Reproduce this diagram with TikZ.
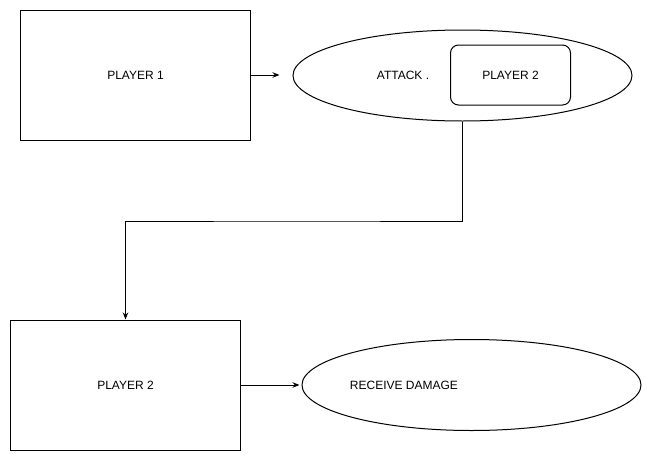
\documentclass[tikz,border=0pt]{standalone}
\usepackage{fontspec}
\setmainfont{Liberation Sans}
\usetikzlibrary{arrows.meta, positioning, shapes.geometric}

\begin{document}
\begin{tikzpicture}[
    x=1pt, y=-1pt,
    box/.style={rectangle, draw, line width=1pt, minimum width=230pt, minimum height=130pt, inner sep=0pt, font=\fontsize{12}{14}\selectfont},
    oval/.style={ellipse, draw, line width=1pt, minimum width=339pt, minimum height=91pt, inner sep=0pt},
    innerbox/.style={rectangle, draw, line width=1pt, rounded corners=8pt, minimum width=120pt, minimum height=60pt, inner sep=0pt, font=\fontsize{12}{14}\selectfont},
    txt/.style={inner sep=0pt, font=\fontsize{12}{14}\selectfont},
    arrow/.style={-{Stealth[length=7pt, width=5.5pt]}, line width=1pt}
]
\useasboundingbox (0,0) rectangle (651,461);

% Top row
\node[box] (player1) at (135.5,75) {PLAYER 1};
\node[oval] (attack) at (462.5,75.5) {};
\node[txt] (attacklbl) at (403,75) {ATTACK .};
\node[innerbox] (target) at (510.5,75) {PLAYER 2};

\draw[arrow, shorten >=13pt] (player1.east) -- (player1.east -| attack.west);

% Bottom row
\node[box] (player2) at (125.5,385) {PLAYER 2};
\node[oval] (damage) at (471.5,385) {};
\node[txt] (damagelbl) at (404,385) {RECEIVE DAMAGE};

\draw[arrow, shorten >=2pt] (player2.east) -- (player2.east -| damage.west);

% Elbow connector
\coordinate (bend) at (300,221);
\draw[arrow] (attack.south) |- (bend) -| (player2.north);

\end{tikzpicture}
\end{document}
